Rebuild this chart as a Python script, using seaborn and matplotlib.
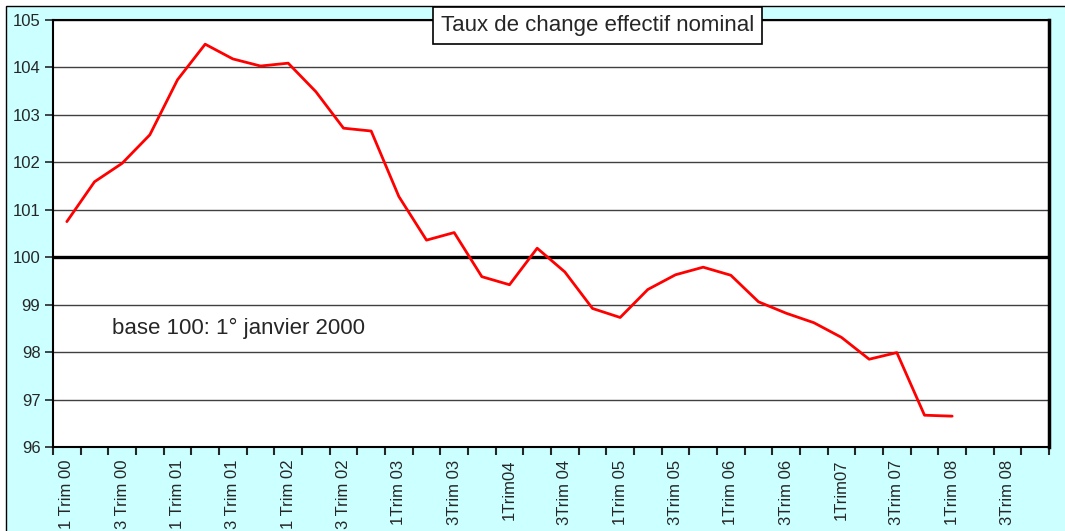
import numpy as np
import pandas as pd
import seaborn as sns
from matplotlib import pyplot as plt
from matplotlib.patches import Rectangle

# quarterly nominal effective exchange rate, base 100 = 1 Jan 2000
quarter_labels = ["1 Trim 00", "3 Trim 00", "1 Trim 01", "3 Trim 01", "1 Trim 02", "3 Trim 02",
                  "1Trim 03", "3Trim 03", "1Trim04", "3Trim 04", "1Trim 05", "3Trim 05",
                  "1Trim 06", "3Trim 06", "1Trim07", "3Trim 07", "1Trim 08", "3Trim 08"]
n_quarters = 36
taux = [100.75, 101.59, 101.98, 102.58, 103.74, 104.49, 104.18, 104.03, 104.09, 103.49,
        102.72, 102.66, 101.28, 100.36, 100.52, 99.59, 99.42, 100.19, 99.69, 98.92,
        98.73, 99.32, 99.63, 99.79, 99.62, 99.06, 98.82, 98.62, 98.31, 97.85,
        97.99, 96.67, 96.65]
y_ticks = [96, 97, 98, 99, 100, 101, 102, 103, 104, 105]

df = pd.DataFrame({'trimestre': range(len(taux)), 'taux': taux})

sns.set_style('white')
plt.rcParams['font.family'] = ['Liberation Sans', 'DejaVu Sans']

W, H = 1065, 531
fig = plt.figure(figsize=(W / 100, H / 100), dpi=100, facecolor='white')

# cyan chart area with black frame (right/bottom edges run off the picture)
fig.add_artist(Rectangle((6 / W, -0.1), 1.2, 1 - 6 / H + 0.1, transform=fig.transFigure,
                         facecolor='#CCFFFF', edgecolor='black', lw=1, zorder=-1))

ax = fig.add_axes([53 / W, 1 - 447 / H, (1049 - 53) / W, (447 - 20) / H])
ax.set_facecolor('white')

sns.lineplot(data=df, x='trimestre', y='taux', color='red', lw=2, ax=ax)
ax.axhline(100, color='black', lw=2.4, zorder=1.5)

ax.set_xlim(-0.5, n_quarters - 0.5)
ax.set_ylim(96, 105)
ax.set_yticks(y_ticks)
ax.yaxis.grid(True, color='#404040', lw=1)
ax.set_axisbelow(True)

ax.set_xticks(np.arange(-0.5, n_quarters, 1))
ax.set_xticks(range(0, n_quarters, 2), minor=True)
ax.set_xticklabels(quarter_labels, minor=True, rotation=90, va='top')
ax.tick_params(axis='x', which='major', direction='out', length=6, width=1.5,
               labelbottom=False, bottom=True)
ax.tick_params(axis='x', which='minor', length=0, pad=9, labelsize=12)
ax.tick_params(axis='y', direction='out', length=6, width=1.2, pad=3, labelsize=12, left=True)

ax.set_xlabel('')
ax.set_ylabel('')
for side in ['top', 'left', 'bottom']:
    ax.spines[side].set_color('black')
    ax.spines[side].set_linewidth(1.5)
ax.spines['right'].set_color('black')
ax.spines['right'].set_linewidth(2.5)

fig.text(597.5 / W, 1 - 25.5 / H, 'Taux de change effectif nominal', ha='center', va='center',
         fontsize=16, bbox=dict(boxstyle='square,pad=0.35', fc='white', ec='black', lw=1.2))
fig.text(112 / W, 1 - 328 / H, 'base 100: 1° janvier 2000', ha='left', va='center', fontsize=16)

fig.savefig('out.png', dpi=100)
